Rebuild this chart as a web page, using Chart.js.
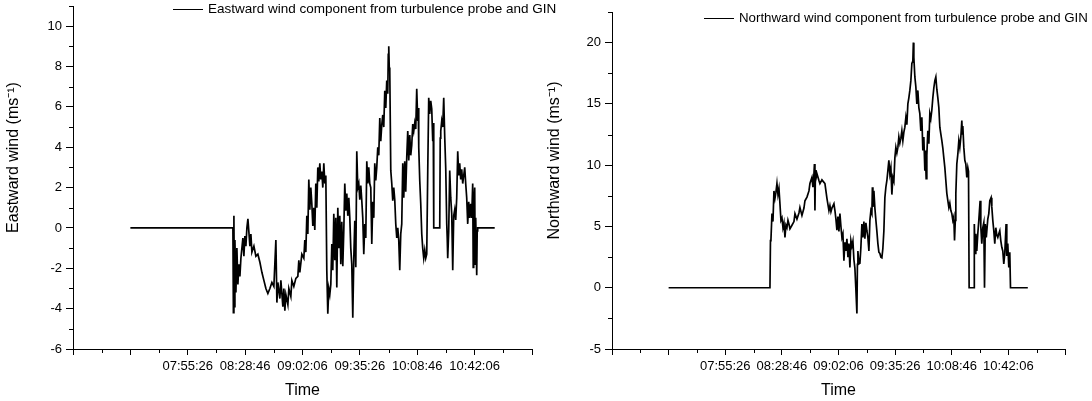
<!DOCTYPE html>
<html>
<head>
<meta charset="utf-8">
<script src="https://cdn.jsdelivr.net/npm/chart.js@4/dist/chart.umd.min.js"></script>
<style>
  body { margin: 0; background: #fff; }
  #wrap { position: relative; width: 1092px; height: 401px; }
  canvas { position: absolute; top: 0; }
</style>
</head>
<body>
<div id="wrap">
  <canvas id="east" width="560" height="401" style="left:0"></canvas>
  <canvas id="north" width="552" height="401" style="left:540px"></canvas>
</div>
<script>
// time axis, seconds of day
const timeTicks = [24526, 26526, 28526, 30526, 32526, 34526, 36526, 38526, 40526];
const timeLabels = ["", "", "07:55:26", "08:28:46", "09:02:06", "09:35:26", "10:08:46", "10:42:06", ""];
const eastTicks = [-6, -4, -2, 0, 2, 4, 6, 8, 10];
const northTicks = [-5, 0, 5, 10, 15, 20];

// eastward wind (m/s)
const eastTime = [
  26526, 30100, 30117, 30135, 30152, 30170, 30205, 30239, 30274, 30309,
  30344, 30379, 30448, 30483, 30518, 30553, 30588, 30623, 30657, 30692,
  30727, 30762, 30832, 30901, 30971, 31041, 31110, 31180, 31250, 31319,
  31389, 31459, 31528, 31598, 31633, 31668, 31737, 31772, 31842, 31876,
  31911, 31946, 32016, 32050, 32120, 32155, 32224, 32294, 32364, 32398,
  32433, 32503, 32572, 32607, 32642, 32677, 32712, 32746, 32781, 32816,
  32851, 32886, 32921, 32955, 32990, 33025, 33060, 33095, 33130, 33164,
  33199, 33234, 33269, 33304, 33339, 33373, 33408, 33443, 33478, 33513,
  33548, 33582, 33617, 33652, 33687, 33722, 33757, 33791, 33826, 33861,
  33896, 33931, 33966, 34000, 34035, 34070, 34105, 34140, 34175, 34209,
  34244, 34279, 34314, 34349, 34384, 34418, 34453, 34488, 34523, 34558,
  34593, 34627, 34662, 34697, 34732, 34767, 34802, 34836, 34871, 34906,
  34941, 34976, 35011, 35045, 35080, 35115, 35150, 35185, 35220, 35254,
  35289, 35324, 35359, 35394, 35429, 35463, 35498, 35516, 35533, 35550,
  35568, 35603, 35638, 35672, 35707, 35742, 35777, 35812, 35847, 35881,
  35916, 35951, 35986, 36021, 36056, 36090, 36125, 36160, 36195, 36230,
  36265, 36299, 36334, 36369, 36404, 36439, 36474, 36508, 36543, 36561,
  36578, 36613, 36648, 36683, 36717, 36752, 36787, 36822, 36857, 36892,
  36926, 36961, 36996, 37031, 37066, 37083, 37101, 37310, 37327, 37345,
  37379, 37414, 37449, 37484, 37519, 37554, 37571, 37588, 37623, 37658,
  37693, 37728, 37763, 37797, 37832, 37867, 37902, 37937, 37972, 38006,
  38041, 38076, 38111, 38146, 38181, 38215, 38250, 38285, 38320, 38355,
  38390, 38424, 38459, 38477, 38494, 38529, 38546, 38564, 38599, 38616,
  38633, 39226
];
const eastWind = [
  0, 0, -4.2, 0.6, -3.9, -0.6, -3.2, -1.0, -2.8, -1.8,
  -2.4, -1.5, -0.5, -1.4, -0.4, -0.9, 0.0, 0.45, -0.2, -0.9,
  -0.3, -1.2, -0.9, -1.4, -1.3, -1.7, -2.2, -2.6, -3.0, -3.25,
  -3.0, -2.7, -2.9, -0.6, -3.7, -2.7, -3.5, -2.6, -3.9, -3.0,
  -4.1, -3.3, -3.8, -3.0, -3.4, -2.6, -2.9, -2.5, -2.4, -1.6,
  -2.2, -1.3, -1.5, -0.6, -1.2, 0.6, -0.3, 2.4, 0.9, 2.0,
  1.2, 0.1, 1.0, -0.1, 2.2, 1.0, 3.0, 2.3, 3.2, 2.4,
  2.8, 2.0, 3.2, 2.2, 2.6, -2.1, -4.25, -3.0, -3.3, -2.8,
  -0.8, -2.1, 0.7, -1.6, 0.5, -2.95, 1.0, -1.0, 0.6, -1.8,
  0.3, -1.9, -0.1, 2.2, 0.85, 1.7, 0.6, 1.5, 0.5, -1.0,
  -1.8, -4.45, -1.5, 0.35, -1.95, 3.8, 2.0, 2.2, 1.4, 2.1,
  1.35, 0.5, -1.3, 0.2, -0.5, 3.3, 2.2, 3.0, 2.2, 2.0,
  -0.8, 1.3, 0.5, 3.2, 2.35, 3.0, 4.0, 3.6, 5.45, 4.3,
  5.1, 5.6, 5.0, 6.8, 5.95, 7.3, 6.65, 8.6, 9.0, 7.95,
  7.8, 2.85, 2.2, 1.35, 2.0, 1.4, 0.2, -0.5, 0.0, -0.6,
  -2.1, -0.3, 0.2, 3.2, 1.5, 3.3, 1.8, 3.5, 4.8, 3.35,
  4.6, 3.6, 4.1, 5.15, 4.8, 5.2, 4.9, 6.9, 5.3, 5.95,
  4.0, 2.35, 1.2, -0.3, -1.0, -1.5, -1.1, -1.5, -1.3, 2.85,
  6.45, 5.65, 6.3, 5.9, 4.3, 5.2, 0.0, 0.0, 4.45, 4.8,
  5.3, 5.0, 6.45, 4.5, 2.95, 0.2, -0.5, -1.5, -0.15, 2.85,
  1.5, 0.7, -2.1, 0.6, 0.9, 0.4, 1.5, 3.8, 2.6, 3.2,
  2.4, 2.9, 2.2, 2.6, 3.0, 2.2, 1.5, 0.2, 1.3, 0.5,
  1.2, 0.5, 2.2, -1.95, 1.0, 2.0, -1.8, 0.5, -2.35, -0.15,
  0, 0
];

// northward wind (m/s)
const northTime = [
  26526, 30105, 30123, 30140, 30176, 30211, 30246, 30282, 30317, 30352,
  30388, 30423, 30458, 30493, 30529, 30564, 30599, 30635, 30670, 30705,
  30741, 30776, 30811, 30882, 30953, 30988, 31058, 31129, 31164, 31235,
  31306, 31341, 31412, 31482, 31517, 31588, 31623, 31659, 31676, 31694,
  31712, 31729, 31765, 31835, 31870, 31941, 32012, 32047, 32118, 32188,
  32223, 32259, 32294, 32365, 32400, 32435, 32470, 32506, 32541, 32576,
  32612, 32647, 32682, 32717, 32753, 32788, 32823, 32859, 32894, 32929,
  32964, 33000, 33035, 33070, 33105, 33141, 33176, 33194, 33211, 33247,
  33282, 33317, 33352, 33388, 33423, 33458, 33494, 33529, 33564, 33600,
  33635, 33670, 33705, 33723, 33741, 33776, 33811, 33847, 33882, 33917,
  33952, 33988, 34023, 34058, 34093, 34129, 34164, 34199, 34235, 34270,
  34305, 34340, 34376, 34411, 34446, 34482, 34517, 34552, 34588, 34623,
  34658, 34693, 34729, 34764, 34799, 34835, 34870, 34905, 34940, 34976,
  35011, 35046, 35082, 35117, 35152, 35170, 35187, 35223, 35258, 35293,
  35329, 35364, 35399, 35434, 35470, 35505, 35540, 35576, 35593, 35622,
  35646, 35681, 35717, 35752, 35787, 35823, 35858, 35893, 35929, 35964,
  35999, 36035, 36070, 36105, 36140, 36176, 36211, 36246, 36282, 36317,
  36352, 36388, 36423, 36458, 36494, 36529, 36564, 36599, 36624, 36652,
  36670, 36705, 36741, 36776, 36811, 36847, 36882, 36900, 36917, 36952,
  36988, 37023, 37058, 37094, 37118, 37140, 37316, 37323, 37351, 37376,
  37411, 37446, 37482, 37528, 37552, 37587, 37623, 37658, 37683, 37711,
  37746, 37799, 37835, 37870, 37916, 37941, 37976, 38011, 38046, 38082,
  38117, 38152, 38188, 38223, 38258, 38294, 38329, 38364, 38399, 38445,
  38470, 38505, 38541, 38576, 38601, 39212
];
const northWind = [
  0, 0, 3.85, 3.9, 6.05, 5.4, 7.9, 7.3, 7.8, 8.5,
  7.6, 8.1, 6.85, 5.5, 5.7, 4.9, 5.3, 4.1, 5.1, 4.9,
  5.5, 5.2, 4.8, 5.1, 5.4, 6.05, 5.6, 6.1, 6.55, 5.9,
  6.5, 7.1, 7.4, 7.9, 8.5, 9.0, 8.2, 9.3, 10.1, 6.3,
  9.6, 8.9, 9.3, 8.75, 8.5, 8.8, 8.6, 8.5, 7.3, 6.3,
  6.7, 6.2, 6.5, 6.85, 6.3, 5.6, 4.7, 5.8, 4.6, 6.05,
  5.0, 4.1, 4.4, 2.2, 3.7, 3.0, 4.0, 2.5, 3.6, 1.65,
  3.85, 3.4, 3.8, 2.3, 1.6, -0.2, -2.1, 1.9, 3.0, 1.95,
  2.0, 3.3, 5.2, 4.1, 5.4, 4.0, 5.3, 4.65, 4.1, 3.0,
  5.5, 6.3, 6.05, 8.2, 6.6, 7.9, 6.5, 5.5, 4.6, 3.6,
  2.9, 2.8, 2.5, 2.45, 3.2, 4.65, 7.35, 8.2, 8.75, 9.55,
  10.4, 9.3, 9.8, 7.6, 9.0, 8.7, 10.6, 11.45, 11.0, 11.45,
  12.3, 11.8, 12.2, 12.8, 12.0, 12.7, 13.1, 13.9, 13.3, 15.0,
  15.5, 16.1, 16.9, 18.3, 18.5, 20.0, 18.8, 17.2, 16.4, 15.0,
  16.1, 14.7, 14.2, 12.8, 13.9, 11.2, 12.3, 9.55, 11.2, 8.9,
  10.8, 12.8, 11.75, 14.2, 13.8, 14.5, 15.5, 16.3, 16.9, 17.2,
  16.2, 15.5, 14.7, 13.1, 12.55, 12.0, 11.4, 10.6, 9.8, 8.75,
  7.7, 7.1, 6.55, 6.9, 6.3, 6.05, 5.5, 5.8, 3.85, 5.5,
  7.65, 10.1, 10.9, 12.0, 11.45, 12.3, 13.65, 12.55, 13.2, 11.45,
  10.4, 10.1, 9.0, 9.8, 9.5, 0, 0, 5.2, 2.8, 4.4,
  3.0, 4.4, 5.5, 7.1, 5.0, 3.6, 4.9, 5.3, 0, 5.2,
  4.1, 5.6, 6.05, 7.1, 7.35, 6.6, 5.5, 4.65, 3.6, 4.9,
  4.3, 4.1, 4.4, 4.65, 3.85, 3.3, 3.0, 1.95, 2.8, 5.2,
  2.6, 3.6, 1.65, 2.9, 0, 0
];

const FONT = '"Liberation Sans", Arial, sans-serif';
Chart.defaults.font.family = FONT;
Chart.defaults.color = '#000';

// small ticks halfway between the labelled ones
const minorTicks = {
  id: 'minorTicks',
  afterDraw(chart) {
    const ctx = chart.ctx;
    ctx.save();
    ctx.strokeStyle = '#000';
    ctx.lineWidth = 1;
    ctx.beginPath();
    for (const id of ['x', 'y']) {
      const s = chart.scales[id];
      const step = s.ticks[1].value - s.ticks[0].value;
      for (let v = s.ticks[0].value + step / 2; v <= s.max + 1e-9; v += step) {
        const p = Math.round(s.getPixelForValue(v)) + 0.5;
        if (id === 'x') {
          ctx.moveTo(p, s.top);
          ctx.lineTo(p, s.top + 4);
        } else {
          ctx.moveTo(s.right, p);
          ctx.lineTo(s.right - 4, p);
        }
      }
    }
    ctx.stroke();
    ctx.restore();
  }
};

// line sample + series name at the top of the plot
const lineKey = {
  id: 'lineKey',
  afterDraw(chart, args, opts) {
    const { ctx, chartArea } = chart;
    const ds = chart.data.datasets[0];
    const x = chartArea.left + opts.dx;
    const y = Math.round(chartArea.top + opts.dy) + 0.5;
    ctx.save();
    ctx.strokeStyle = ds.borderColor;
    ctx.lineWidth = 1;
    ctx.beginPath();
    ctx.moveTo(x, y);
    ctx.lineTo(x + 30, y);
    ctx.stroke();
    ctx.font = opts.size + 'px ' + FONT;
    ctx.fillStyle = '#000';
    ctx.textBaseline = 'middle';
    ctx.fillText(ds.label, x + 35, y);
    ctx.restore();
  }
};

function windChart(canvas, p) {
  return new Chart(canvas, {
    type: 'line',
    data: {
      datasets: [{
        label: p.label,
        data: p.time.map((t, i) => ({ x: t, y: p.wind[i] })),
        borderColor: '#000',
        borderWidth: 1.7,
        pointRadius: 0,
        tension: 0,
        fill: false
      }]
    },
    options: {
      responsive: false,
      animation: false,
      layout: { padding: p.padding },
      plugins: {
        legend: { display: false },
        tooltip: { enabled: false },
        lineKey: p.key
      },
      scales: {
        x: {
          type: 'linear',
          min: timeTicks[0],
          max: timeTicks[timeTicks.length - 1],
          afterBuildTicks: s => { s.ticks = timeTicks.map(v => ({ value: v })); },
          afterFit: s => { s.height = 52; s.paddingLeft = 0; s.paddingRight = 0; },
          ticks: {
            autoSkip: false, maxRotation: 0, padding: 4,
            font: { size: 13 }, color: '#000',
            callback: (v, i) => timeLabels[i]
          },
          grid: { drawOnChartArea: false, tickLength: 6, color: '#000' },
          border: { color: '#000', width: 1 },
          title: { display: true, text: 'Time', font: { size: 16 }, color: '#000', padding: { top: 0, bottom: 1 } }
        },
        y: {
          min: p.min,
          max: p.max,
          afterBuildTicks: s => { s.ticks = p.ticks.map(v => ({ value: v })); },
          afterFit: s => { s.width = p.axisWidth; s.paddingTop = 0; s.paddingBottom = 0; },
          ticks: { padding: 4, font: { size: 13 }, color: '#000' },
          grid: { drawOnChartArea: false, tickLength: 7, color: '#000' },
          border: { color: '#000', width: 1 },
          title: { display: true, text: p.yTitle, font: { size: 16 }, color: '#000', padding: { top: p.titlePad, bottom: 0 } }
        }
      }
    },
    plugins: [minorTicks, lineKey]
  });
}

windChart(document.getElementById('east'), {
  label: 'Eastward wind component from turbulence probe and GIN',
  time: eastTime, wind: eastWind, ticks: eastTicks,
  min: -6, max: 11,
  yTitle: '         Eastward wind (ms\u207B\u00B9)',
  titlePad: 4, axisWidth: 73,
  padding: { left: 0, top: 6, right: 28, bottom: 0 },
  key: { dx: 100, dy: 3.3, size: 13.5 }
});

windChart(document.getElementById('north'), {
  label: 'Northward wind component from turbulence probe and GIN',
  time: northTime, wind: northWind, ticks: northTicks,
  min: -5, max: 22.5,
  yTitle: '         Northward wind (ms\u207B\u00B9)',
  titlePad: 5, axisWidth: 72,
  padding: { left: 0, top: 12, right: 27, bottom: 0 },
  key: { dx: 92, dy: 6.3, size: 13.3 }
});
</script>
</body>
</html>
